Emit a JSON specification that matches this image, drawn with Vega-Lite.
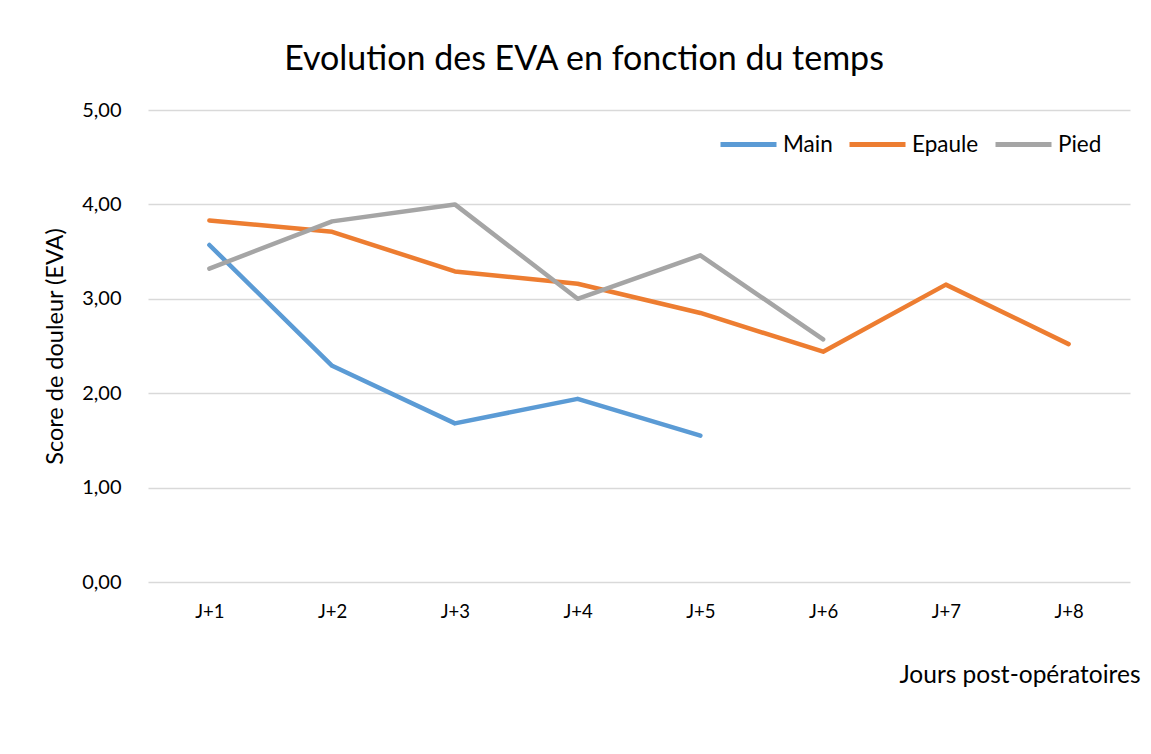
{
  "$schema": "https://vega.github.io/schema/vega-lite/v6.json",
  "autosize": {"type": "none"},
  "width": 982,
  "height": 472,
  "padding": {"left": 148, "top": 110, "right": 21, "bottom": 172},
  "background": "white",
  "config": {
    "locale": {"number": {"decimal": ",", "thousands": " ", "grouping": [3], "currency": ["", " €"]}},
    "view": {"stroke": null},
    "font": "Lato",
    "axis": {"labelFont": "Lato", "titleFont": "Lato", "labelColor": "#000000", "titleColor": "#000000", "titleFontWeight": "normal"}
  },
  "title": {"text": "Evolution des EVA en fonction du temps", "font": "Lato", "fontSize": 34, "fontWeight": "normal", "color": "#000000", "anchor": "middle", "dx": -55, "offset": 23},
  "data": {"values": [
    {"jour": "J+1", "serie": "Main", "eva": 3.57},
    {"jour": "J+2", "serie": "Main", "eva": 2.29},
    {"jour": "J+3", "serie": "Main", "eva": 1.68},
    {"jour": "J+4", "serie": "Main", "eva": 1.94},
    {"jour": "J+5", "serie": "Main", "eva": 1.55},
    {"jour": "J+1", "serie": "Epaule", "eva": 3.83},
    {"jour": "J+2", "serie": "Epaule", "eva": 3.71},
    {"jour": "J+3", "serie": "Epaule", "eva": 3.29},
    {"jour": "J+4", "serie": "Epaule", "eva": 3.16},
    {"jour": "J+5", "serie": "Epaule", "eva": 2.85},
    {"jour": "J+6", "serie": "Epaule", "eva": 2.44},
    {"jour": "J+7", "serie": "Epaule", "eva": 3.15},
    {"jour": "J+8", "serie": "Epaule", "eva": 2.52},
    {"jour": "J+1", "serie": "Pied", "eva": 3.32},
    {"jour": "J+2", "serie": "Pied", "eva": 3.82},
    {"jour": "J+3", "serie": "Pied", "eva": 4.0},
    {"jour": "J+4", "serie": "Pied", "eva": 3.0},
    {"jour": "J+5", "serie": "Pied", "eva": 3.46},
    {"jour": "J+6", "serie": "Pied", "eva": 2.57}
  ]},
  "mark": {"type": "line", "strokeWidth": 4.5, "strokeCap": "round", "strokeJoin": "round"},
  "encoding": {
    "x": {
      "field": "jour", "type": "ordinal",
      "sort": ["J+1", "J+2", "J+3", "J+4", "J+5", "J+6", "J+7", "J+8"],
      "scale": {"type": "point", "padding": 0.5},
      "axis": {
        "title": "Jours post-opératoires", "titleFontSize": 24.5, "titleAnchor": "end", "titleAlign": "right",
        "titleX": 992, "titleY": 93, "titleBaseline": "middle",
        "labelAngle": 0, "labelFontSize": 18.5, "labelPadding": 20, "ticks": false, "domain": false, "grid": false
      }
    },
    "y": {
      "field": "eva", "type": "quantitative",
      "scale": {"domain": [0, 5], "nice": false},
      "axis": {
        "title": "Score de douleur (EVA)", "titleFontSize": 23.5, "titlePadding": 14,
        "format": ",.2f", "values": [0, 1, 2, 3, 4, 5], "labelFontSize": 20, "labelPadding": 27,
        "ticks": false, "domain": false, "grid": true, "gridColor": "#D9D9D9", "gridWidth": 1.5
      }
    },
    "color": {
      "field": "serie", "type": "nominal",
      "scale": {"domain": ["Main", "Epaule", "Pied"], "range": ["#5B9BD5", "#ED7D31", "#A5A5A5"]},
      "legend": {
        "title": null, "orient": "none", "legendX": 570, "legendY": 4, "direction": "horizontal",
        "symbolType": "stroke", "symbolSize": 3136, "symbolStrokeWidth": 5, "labelFontSize": 22.5, "labelFont": "Lato",
        "labelColor": "#000000", "columnPadding": 6, "labelOffset": 4
      }
    }
  }
}
